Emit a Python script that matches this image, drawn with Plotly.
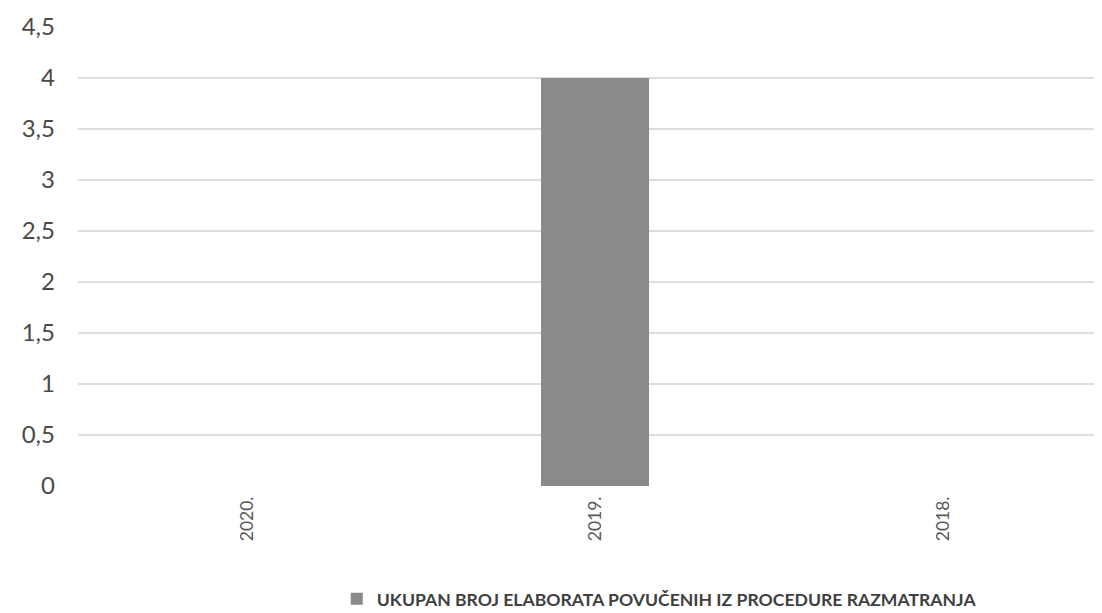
import plotly.graph_objects as go

categories = ["2020.", "2019.", "2018."]
values = [0, 4, 0]
series_name = "UKUPAN BROJ ELABORATA POVUČENIH IZ PROCEDURE RAZMATRANJA"
y_ticks = [0, 0.5, 1, 1.5, 2, 2.5, 3, 3.5, 4, 4.5]

fig = go.Figure()
fig.add_trace(go.Bar(
    x=categories, y=values, name=series_name,
    marker=dict(color="#8a8a8a", line=dict(width=0)),
    width=0.31, showlegend=True,
))

fig.update_layout(
    width=1102, height=613,
    margin=dict(l=70, r=8, t=19, b=135),
    paper_bgcolor="white", plot_bgcolor="white",
    separators=",.",
    font=dict(family="Lato, Open Sans, sans-serif", color="#404040"),
    xaxis=dict(
        range=[-0.486, 2.457], showgrid=False, zeroline=False, showline=False,
        tickangle=-90, tickfont=dict(size=17.5, color="#595959"), ticks="",
        ticklabelstandoff=6, automargin=False,
    ),
    yaxis=dict(
        range=[0, 4.5], tickvals=y_ticks, showgrid=True, gridcolor="#dedede",
        gridwidth=1.5, zeroline=False, showline=False,
        tickfont=dict(size=24, color="#4a4a4a"), ticklabelstandoff=22,
        automargin=False,
    ),
    legend=dict(
        orientation="h", xref="container", yref="container",
        x=0.591, y=0.036, xanchor="center", yanchor="middle",
        font=dict(size=17.6, color="#404040", family="Lato, sans-serif", weight="bold"),
        itemwidth=30,
    ),
    bargap=0,
)

fig.write_html("out.html")
